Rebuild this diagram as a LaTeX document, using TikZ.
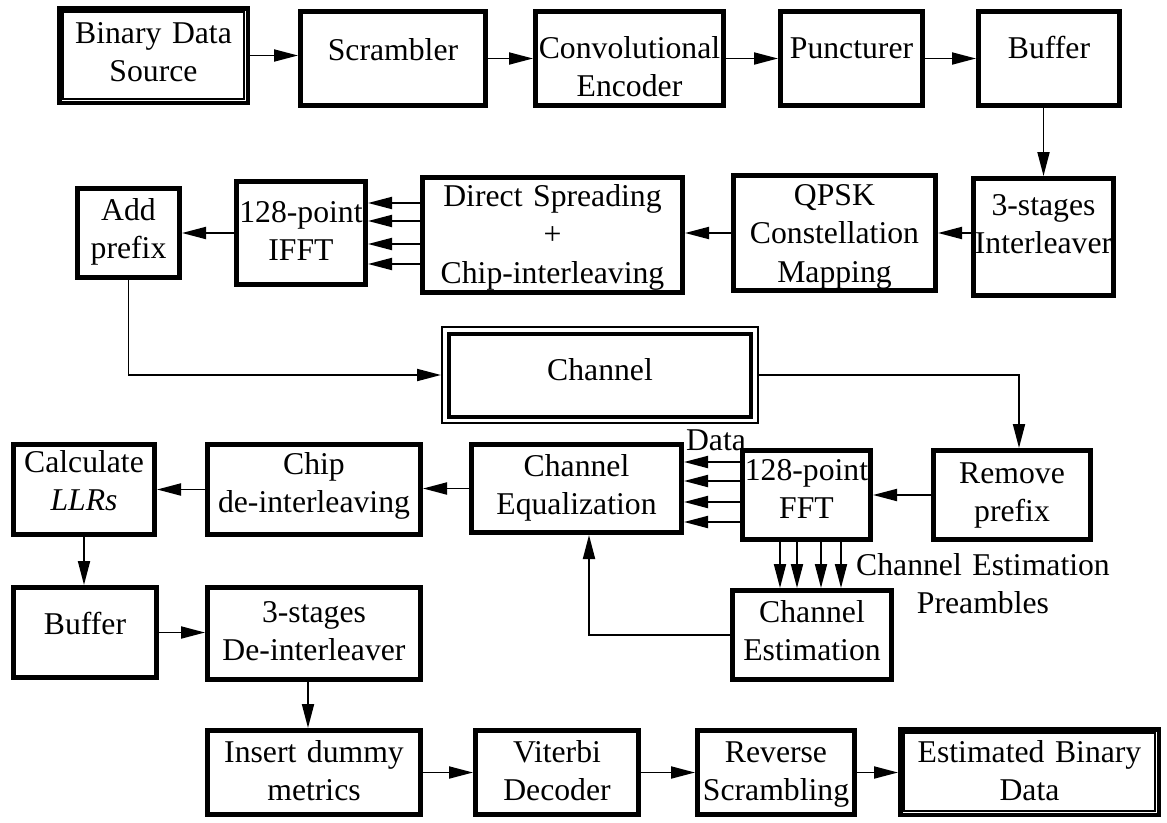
\documentclass[tikz,border=0pt]{standalone}
\usepackage{fontspec}
\setmainfont{Liberation Serif}
\usetikzlibrary{arrows.meta}

% A block given by its outer edges: name, x1, y1, x2, y2, border width
\newcommand\blockbox[6]{%
  \node[blk, line width=#6pt, minimum width={#4-#2-#6}, minimum height={#5-#3-#6}]
    (#1) at ({(#2+#4)/2},{(#3+#5)/2}) {};}

\begin{document}
\begin{tikzpicture}[x=1pt,y=-1pt,
  blk/.style={draw, inner sep=0pt},
  lbl/.style={font=\fontsize{31.7}{38.5}\selectfont, text width=280pt,
              align=center, inner sep=0pt, anchor=base},
  conn/.style={line width=1.9pt, -{Triangle[length=24pt,width=12pt]}},
]
\useasboundingbox[fill=white] (0,0) rectangle (1167,822);

% ---------- transmitter, first row ----------
\blockbox{bin}{57}{6}{250}{105}{4.5}
\draw[line width=1.3pt] ([shift={(6,6)}]bin.north west) rectangle ([shift={(-6,-6)}]bin.south east);
\blockbox{scr}{298}{9}{488}{108}{5}
\blockbox{conv}{533}{9}{726}{108}{5}
\blockbox{punc}{778}{9}{925}{108}{5}
\blockbox{buf}{976}{9}{1122}{108}{5}

\node[lbl] (bin-t)  at (153.5,43) {Binary Data\\Source};
\node[lbl] (scr-t)  at (393,60)   {Scrambler};
\node[lbl] (conv-t) at (629.5,58) {Convolutional\\Encoder};
\node[lbl] (punc-t) at (851.5,58) {Puncturer};
\node[lbl] (buf-t)  at (1049,58)  {Buffer};

% ---------- transmitter, second row ----------
\blockbox{add}{75}{186}{182}{280}{5}
\blockbox{ifft}{234}{179}{368}{287}{5}
\blockbox{ds}{420}{175}{685}{295}{5}
\blockbox{qpsk}{731}{173}{938}{293}{5}
\blockbox{intl}{971}{176}{1116}{298}{5}

\node[lbl] (add-t)  at (128.5,220)  {Add\\prefix};
\node[lbl] (ifft-t) at (301,222)    {128-point\\IFFT};
\node[lbl] (ds-t)   at (552.5,206)  {Direct Spreading\\+\\Chip-interleaving};
\node[lbl] (qpsk-t) at (834.5,205)  {QPSK\\Constellation\\Mapping};
\node[lbl] (intl-t) at (1043.5,215) {3-stages\\Interleaver};

% ---------- channel ----------
\blockbox{chan}{441}{326}{759}{424}{2}
\draw[line width=4pt] ([shift={(8,8)}]chan.north west) rectangle ([shift={(-8,-7)}]chan.south east);
\node[lbl] (chan-t) at (600,380) {Channel};

% ---------- receiver ----------
\blockbox{calc}{11}{442}{157}{537}{5}
\blockbox{chip}{205}{442}{423}{537}{5}
\blockbox{eq}{469}{442}{684}{535}{5}
\blockbox{fft}{740}{448}{873}{542}{5}
\blockbox{rem}{931}{448}{1093}{542}{5}
\blockbox{ce}{730}{588}{894}{682}{5}
\blockbox{buf2}{11}{585}{159}{680}{5}
\blockbox{deint}{205}{585}{423}{682}{5}
\blockbox{ins}{205}{728}{423}{817}{5}
\blockbox{vit}{473}{728}{641}{817}{5}
\blockbox{rev}{695}{728}{857}{817}{5}
\blockbox{est}{898}{727}{1161}{817}{4.5}
\draw[line width=1.3pt] ([shift={(6,6)}]est.north west) rectangle ([shift={(-6,-6)}]est.south east);

\node[lbl] (calc-t)  at (84,472)    {Calculate\\\textit{LLRs}};
\node[lbl] (chip-t)  at (314,474)   {Chip\\de-interleaving};
\node[lbl] (eq-t)    at (576.5,476) {Channel\\Equalization};
\node[lbl] (fft-t)   at (806.5,480) {128-point\\FFT};
\node[lbl] (rem-t)   at (1012,483)  {Remove\\prefix};
\node[lbl] (data-t)  at (716,450)   {Data};
\node[lbl] (cep-t)   at (983,575)   {Channel Estimation\\Preambles};
\node[lbl] (ce-t)    at (812,622)   {Channel\\Estimation};
\node[lbl] (buf2-t)  at (85,634)    {Buffer};
\node[lbl] (deint-t) at (314,622)   {3-stages\\De-interleaver};
\node[lbl] (ins-t)   at (314,762)   {Insert dummy\\metrics};
\node[lbl] (vit-t)   at (557,762)   {Viterbi\\Decoder};
\node[lbl] (rev-t)   at (776,762)   {Reverse\\Scrambling};
\node[lbl] (est-t)   at (1029.5,762) {Estimated Binary\\Data};

% ---------- connectors ----------
\draw[conn] (bin.east) -- (bin.east -| scr.west);
\draw[conn] (scr.east) -- (scr.east -| conv.west);
\draw[conn] (conv.east) -- (conv.east -| punc.west);
\draw[conn] (punc.east) -- (punc.east -| buf.west);
\draw[conn] (buf.south -| intl.north) -- (intl.north);
\draw[conn] (qpsk.east -| intl.west) -- (qpsk.east);
\draw[conn] (qpsk.west) -- (qpsk.west -| ds.east);
\foreach \yy in {203,221,244,264}
  \draw[conn] (ds.west |- 0,\yy) -- (ifft.east |- 0,\yy);
\draw[conn] (ifft.west) -- (ifft.west -| add.east);
\draw[conn] (add.south) |- (chan.west);
\draw[conn] (chan.east) -| ([xshift=7pt]rem.north);
\draw[conn] (rem.west) -- (rem.west -| fft.east);
\foreach \yy in {462,481,502,522}
  \draw[conn] (fft.west |- 0,\yy) -- (eq.east |- 0,\yy);
\foreach \xx in {780,797,821,841}
  \draw[conn] (fft.south -| \xx,0) -- (ce.north -| \xx,0);
\draw[conn] (ce.west) -| ([xshift=12.5pt]eq.south);
\draw[conn] (eq.west) -- (eq.west -| chip.east);
\draw[conn] (chip.west) -- (chip.west -| calc.east);
\draw[conn] (calc.south) -- (calc.south |- buf2.north);
\draw[conn] (buf2.east) -- (buf2.east -| deint.west);
\draw[conn] ([xshift=-6pt]deint.south) -- ([xshift=-6pt]deint.south |- ins.north);
\draw[conn] (ins.east) -- (ins.east -| vit.west);
\draw[conn] (vit.east) -- (vit.east -| rev.west);
\draw[conn] (rev.east) -- (rev.east -| est.west);
\end{tikzpicture}
\end{document}
